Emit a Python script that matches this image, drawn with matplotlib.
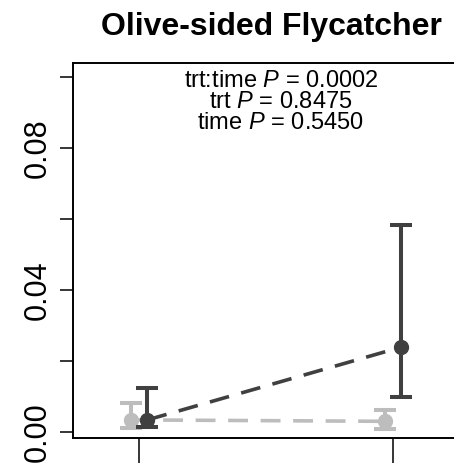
import matplotlib
matplotlib.use("Agg")
import matplotlib.pyplot as plt
import numpy as np

plt.rcParams['font.family'] = ['Liberation Sans', 'DejaVu Sans']
plt.rcParams['mathtext.fontset'] = 'custom'
plt.rcParams['mathtext.rm'] = 'Liberation Sans'
plt.rcParams['mathtext.it'] = 'Liberation Sans:italic'

# Estimated means and confidence limits by time period
times = [1, 2]
trt_mean = [0.0034, 0.0239]
trt_low = [0.0014, 0.0099]
trt_high = [0.0124, 0.0583]
ctl_mean = [0.0034, 0.0030]
ctl_low = [0.0011, 0.0008]
ctl_high = [0.0082, 0.0062]

title = "Olive-sided Flycatcher"
pvals = ["trt:time $\\mathit{P}$ = 0.0002",
         "trt $\\mathit{P}$ = 0.8475",
         "time $\\mathit{P}$ = 0.5450"]

dark = '#404040'
light = '#bdbdbd'
dodge = 0.033

W, H = 454, 463
fig = plt.figure(figsize=(W / 100, H / 100), dpi=100)
left, right, top, bottom = 73, 469, 63, 438
ax = fig.add_axes([left / W, 1 - bottom / H, (right - left) / W, (bottom - top) / H])


def draw(mean, low, high, color, shift, z):
    x = np.array(times) + shift
    m = np.array(mean)
    err = [m - np.array(low), np.array(high) - m]
    ax.plot(x, m, ls=(0, (5.5, 3.5)), color=color, lw=2.6, zorder=z, dash_capstyle='butt')
    ax.errorbar(x, m, yerr=err, fmt='o', color=color, ms=10, elinewidth=2.9,
                capsize=8, capthick=2.9, zorder=z + 1)


draw(ctl_mean, ctl_low, ctl_high, light, -dodge, 2)
draw(trt_mean, trt_low, trt_high, dark, dodge, 4)

ax.set_xlim(0.740, 2.299)
ax.set_ylim(-0.0017, 0.1039)
ax.set_xticks(times)
ax.set_xticklabels([])
ax.set_yticks(np.arange(0, 0.101, 0.02))
ax.set_yticklabels(['0.00', '', '0.04', '', '0.08', ''], rotation=90, va='center')
ax.tick_params(axis='y', length=9.5, width=1.1, labelsize=22, pad=5, color='black')
ax.tick_params(axis='x', length=18, width=1.1)
for side in ['left', 'top', 'bottom']:
    ax.spines[side].set_linewidth(1.4)
ax.spines['right'].set_visible(False)

for i, s in enumerate(pvals):
    ax.text(0.525, 1 - (87 - top + 21 * i) / (bottom - top), s, transform=ax.transAxes,
            ha='center', va='baseline', fontsize=17)

fig.text(271 / W, 1 - 35 / H, title, ha='center', va='baseline', fontsize=23, fontweight='bold')

fig.savefig('out.png', dpi=100)
